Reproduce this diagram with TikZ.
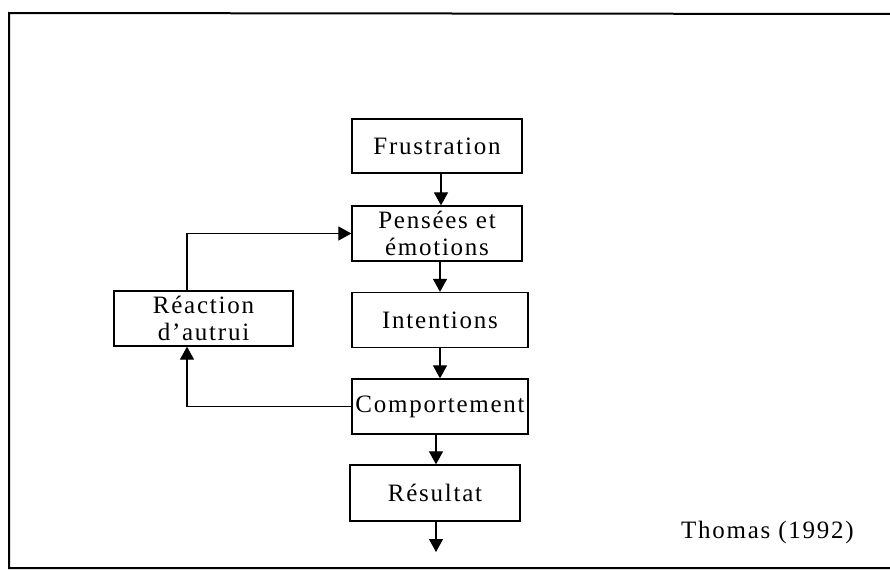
\documentclass[tikz,border=0pt]{standalone}
\usepackage{fontspec}
\setmainfont[LetterSpace=7]{Liberation Serif}
\usetikzlibrary{arrows.meta}
\begin{document}
\begin{tikzpicture}[x=1pt,y=-1pt,
  box/.style={draw,line width=1.3pt,rectangle,inner sep=0pt,align=center,
    font=\fontsize{25}{27}\selectfont},
  link/.style={line width=1.2pt,-{Triangle[width=14pt,length=13pt]}},
  frame/.style={line width=2pt}]
\useasboundingbox (0,0) rectangle (890,570);
% outer frame (right side runs off the page)
\draw[frame] (895,14) -- (9,13) -- (9,568) -- (895,568);
% main chain
\node[box,minimum width=170pt,minimum height=54pt] (fru) at (437,146) {Frustration};
\node[box,minimum width=170pt,minimum height=55pt] (pen) at (437,233.5) {Pensées et\\émotions};
\node[box,minimum width=176pt,minimum height=55pt] (int) at (440,320) {Intentions};
\node[box,minimum width=176pt,minimum height=55pt] (com) at (440,406.5) {Comportement};
\node[box,minimum width=170pt,minimum height=56pt] (res) at (435,493) {Résultat};
% feedback box
\node[box,minimum width=179pt,minimum height=55pt] (rea) at (203.5,318.5) {Réaction\\d’autrui};
\node[font=\fontsize{25}{27}\selectfont,anchor=east,inner sep=0pt] (src) at (854,532) {Thomas (1992)};
\coordinate (out) at (435,552);
% arrows
\draw[link] (fru.south -| 441,0) -- (pen.north -| 441,0);
\draw[link] (pen.south -| 440,0) -- (int.north -| 440,0);
\draw[link] (int.south -| 440,0) -- (com.north -| 440,0);
\draw[link] (com.south -| 436,0) -- (res.north -| 436,0);
\draw[link] (res.south -| 436,0) -- (out -| 436,0);
\draw[link] (com.west) -| (rea.south -| 187,0);
\draw[link] (rea.north -| 187,0) |- (pen.west);
\end{tikzpicture}
\end{document}
